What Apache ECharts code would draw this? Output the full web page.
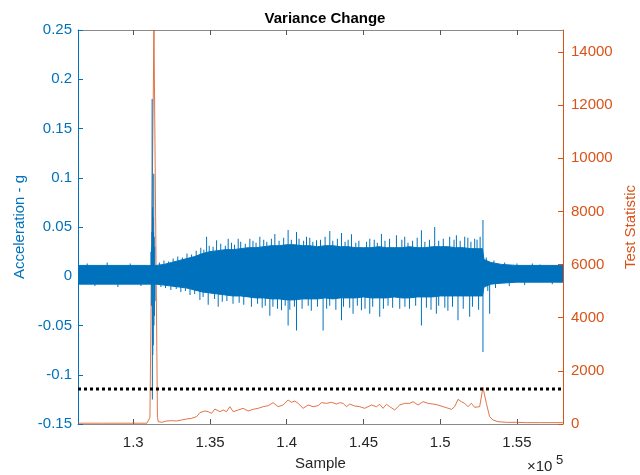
<!DOCTYPE html>
<html><head><meta charset="utf-8">
<script src="https://cdn.jsdelivr.net/npm/echarts@6/dist/echarts.min.js"></script>
<style>html,body{margin:0;padding:0;background:#fff}#c{width:640px;height:475px}</style>
</head><body><div id="c"></div>
<script>
// ---- data ----
const sampleTicks = [130000, 135000, 140000, 145000, 150000, 155000];
const accTicks = [-0.15, -0.1, -0.05, 0, 0.05, 0.1, 0.15, 0.2, 0.25];
const statTicks = [0, 2000, 4000, 6000, 8000, 10000, 12000, 14000];

// acceleration: dense core band (upper / lower edge)
const envX = [126400,131000,131500,132000,132500,133000,133500,134000,134500,135000,135500,136000,136500,137000,137500,138000,138500,139000,139500,140000,140500,141000,141500,142000,142500,143000,143500,144000,144500,145000,145500,146000,146500,147000,147500,148000,148500,149000,149500,150000,150500,151000,151500,152000,152500,152750,152850,153300,154000,155000,158000];
const envUpper = [0.011,0.011,0.011,0.012,0.014,0.016,0.018,0.020,0.023,0.025,0.026,0.027,0.027,0.028,0.029,0.029,0.030,0.031,0.031,0.032,0.032,0.031,0.031,0.030,0.031,0.031,0.030,0.030,0.029,0.029,0.029,0.030,0.029,0.029,0.029,0.030,0.029,0.029,0.030,0.030,0.030,0.029,0.029,0.028,0.028,0.028,0.017,0.014,0.012,0.011,0.011];
const envLower = [-0.008,-0.008,-0.008,-0.009,-0.010,-0.011,-0.012,-0.014,-0.016,-0.017,-0.018,-0.019,-0.020,-0.020,-0.021,-0.022,-0.022,-0.023,-0.023,-0.024,-0.024,-0.023,-0.023,-0.023,-0.022,-0.023,-0.022,-0.022,-0.022,-0.021,-0.022,-0.022,-0.022,-0.021,-0.022,-0.022,-0.021,-0.021,-0.021,-0.020,-0.020,-0.020,-0.020,-0.020,-0.020,-0.020,-0.011,-0.008,-0.007,-0.006,-0.006];

// acceleration: thin excursions beyond the core band (hair + big spikes)
const spikeX = [
  131150,131180,131200,131215,131230,131245,131260,131275,131290,131305,131320,131335,131350,131365,131380,131400,131420,
  127000,127500,128300,129000,129800,130500,156500,157300,
  131700,132000,132300,132600,132900,133200,133500,133800,134100,134400,134600,134778,134950,135200,135429,135700,136000,136185,136400,136600,136836,137000,137300,137597,137800,138000,138248,138500,138700,139000,139225,139500,139800,140090,140300,140637,140800,141100,141288,141500,141700,141939,142200,142500,142805,143000,143300,143567,143800,144000,144218,144500,144700,145200,145409,145700,145900,146170,146400,146700,147147,147500,147687,147900,148200,148500,148775,149000,149300,149640,149900,150200,150617,150900,151054,151300,151594,151800,152000,152245,152400,152600,152785,153000,153500,154200,155000,156000,
  131800,132100,132450,132800,133100,133400,133700,134000,134342,134550,134883,135300,135534,135800,136100,136500,136900,137200,137700,138100,138400,138600,138899,139100,139400,139661,139900,140090,140200,140500,140637,141000,141400,141600,142000,142369,142600,142800,143200,143567,143700,144100,144322,144600,144868,145100,145409,145600,146059,146300,146600,146900,147362,147700,148000,148400,148775,149100,149400,149749,149900,150300,150500,150800,151158,151500,151919,152100,152500,152785,153100,153221,153600,154500,155500];
const spikeY = [
  0.025,-0.03,0.03,0.045,0.18,-0.125,0.07,-0.08,0.06,-0.07,0.045,0.104,-0.05,0.04,-0.04,0.03,-0.025,
  0.013,-0.010,0.014,-0.011,0.013,-0.010,0.012,-0.008,
  0.014,0.016,0.015,0.018,0.020,0.019,0.023,0.022,0.026,0.029,0.027,0.040,0.031,0.030,0.0365,0.033,0.031,0.038,0.034,0.032,0.038,0.035,0.033,0.038,0.036,0.034,0.040,0.037,0.035,0.038,0.043,0.036,0.039,0.047,0.037,0.045,0.038,0.036,0.040,0.039,0.035,0.0365,0.037,0.040,0.046,0.036,0.038,0.044,0.035,0.037,0.0426,0.034,0.036,0.035,0.038,0.037,0.034,0.0428,0.036,0.038,0.0416,0.037,0.040,0.034,0.036,0.039,0.0467,0.035,0.037,0.050,0.036,0.038,0.040,0.037,0.0416,0.036,0.040,0.039,0.035,0.038,0.037,0.040,0.057,0.019,0.016,0.014,0.013,0.013,
  -0.011,-0.012,-0.014,-0.013,-0.016,-0.015,-0.019,-0.018,-0.024,-0.021,-0.029,-0.023,-0.031,-0.026,-0.025,-0.028,-0.027,-0.029,-0.031,-0.028,-0.032,-0.030,-0.040,-0.031,-0.033,-0.0345,-0.030,-0.050,-0.034,-0.031,-0.055,-0.033,-0.030,-0.035,-0.031,-0.055,-0.033,-0.030,-0.034,-0.0447,-0.031,-0.032,-0.038,-0.030,-0.0345,-0.033,-0.038,-0.031,-0.041,-0.033,-0.030,-0.032,-0.033,-0.031,-0.033,-0.030,-0.050,-0.032,-0.034,-0.038,-0.030,-0.032,-0.035,-0.031,-0.0447,-0.033,-0.041,-0.031,-0.034,-0.077,-0.015,-0.038,-0.012,-0.010,-0.009];

// test statistic
const statX = [126400,128000,130000,130892,131087,131348,131576,131628,131849,132174,132500,132825,133151,133476,133802,134127,134342,134668,134883,135104,135319,135644,135859,136080,136295,136510,136836,137161,137487,137812,138138,138463,138789,139114,139440,139765,140090,140311,140526,140741,141067,141392,141718,142043,142264,142590,142915,143241,143456,143671,143893,144107,144433,144758,145084,145193,145519,145844,146059,146274,146495,146711,147036,147362,147687,148013,148228,148554,148879,149205,149530,149856,150181,150402,150728,150943,151158,151379,151594,151809,152030,152245,152570,152785,153006,153221,153436,153762,154309,154960,155611,156476,158000];
const statY = [30,30,30,30,250,14830,250,88,63,113,125,113,151,188,213,276,427,489,464,401,565,464,527,464,652,464,527,590,489,552,590,652,690,803,652,715,903,816,866,778,590,715,652,690,803,778,816,752,803,778,652,752,677,652,590,527,715,652,740,590,740,652,527,715,778,778,841,715,841,778,752,715,652,615,552,652,929,841,778,652,778,627,652,1380,778,276,151,88,63,63,50,50,50];

const threshold = 1320;
const xMin = 126400, xMax = 158000;
const statMax = 14830;

// ---- chart ----
const blue = '#0072BD', orange = '#D95319', dark = '#262626';
const font = 'Liberation Sans, Arial, sans-serif';
const chart = echarts.init(document.getElementById('c'), null, {renderer: 'canvas'});

const zip = (a, b) => a.map((v, i) => [v, b[i]]);

chart.setOption({
  animation: false,
  title: {text: 'Variance Change', left: 320, top: 6, textAlign: 'center',
    textStyle: {fontFamily: font, fontSize: 15, fontWeight: 'bold', color: '#000'}},
  grid: {left: 78, right: 77, top: 30, bottom: 51, containLabel: false, outerBoundsMode: 'none'},
  xAxis: [{
    type: 'value', min: xMin, max: xMax, position: 'bottom',
    name: 'Sample', nameLocation: 'middle', nameGap: 32,
    nameTextStyle: {fontFamily: font, fontSize: 15, color: dark},
    axisLine: {onZero: false, lineStyle: {color: '#8a8a8a', width: 1}},
    axisTick: {inside: true, length: 5, customValues: sampleTicks, lineStyle: {color: '#555'}},
    axisLabel: {customValues: sampleTicks, margin: 11, fontFamily: font, fontSize: 15, color: dark,
      formatter: v => String(+(v / 1e5).toFixed(2))},
    splitLine: {show: false}
  }, {
    type: 'value', min: xMin, max: xMax, position: 'top',
    axisLine: {onZero: false, lineStyle: {color: '#8a8a8a', width: 1}},
    axisTick: {inside: true, length: 5, customValues: sampleTicks, lineStyle: {color: '#555'}},
    axisLabel: {show: false}, splitLine: {show: false}
  }],
  yAxis: [{
    type: 'value', min: -0.15, max: 0.25, position: 'left',
    name: 'Acceleration - g', nameLocation: 'middle', nameGap: 41,
    nameTextStyle: {fontFamily: font, fontSize: 15, color: blue},
    axisLine: {show: true, onZero: false, lineStyle: {color: blue}},
    axisTick: {show: true, inside: true, length: 5, customValues: accTicks, lineStyle: {color: blue}},
    axisLabel: {customValues: accTicks, margin: 6, fontFamily: font, fontSize: 15, color: blue,
      formatter: v => String(+v.toFixed(2))},
    splitLine: {show: false}
  }, {
    type: 'value', min: 0, max: statMax, position: 'right',
    name: 'Test Statistic', nameLocation: 'middle', nameGap: 58, nameRotate: 90,
    nameTextStyle: {fontFamily: font, fontSize: 15, color: orange},
    axisLine: {show: true, onZero: false, lineStyle: {color: orange}},
    axisTick: {show: true, inside: true, length: 5, customValues: statTicks, lineStyle: {color: orange}},
    axisLabel: {customValues: statTicks, margin: 8, fontFamily: font, fontSize: 15, color: orange,
      formatter: v => String(v)},
    splitLine: {show: false}
  }],
  series: [
    {type: 'line', name: 'stat', xAxisIndex: 0, yAxisIndex: 1, data: zip(statX, statY),
      showSymbol: false, lineStyle: {color: orange, width: 1, opacity: 0.8}, z: 2},
    {type: 'custom', name: 'band', xAxisIndex: 0, yAxisIndex: 0, clip: true,
      data: [[envX[0], envUpper[0]]],
      renderItem: (params, api) => {
        const pts = [];
        for (let i = 0; i < envX.length; i++) pts.push(api.coord([envX[i], envUpper[i]]));
        for (let i = envX.length - 1; i >= 0; i--) pts.push(api.coord([envX[i], envLower[i]]));
        return {type: 'polygon', shape: {points: pts},
          style: {fill: blue, stroke: blue, lineWidth: 1}};
      }, z: 3},
    {type: 'bar', name: 'spikes', yAxisIndex: 0, data: zip(spikeX, spikeY),
      barWidth: 1, itemStyle: {color: blue}, z: 4},
    {type: 'line', name: 'threshold', yAxisIndex: 1, data: [[xMin, threshold], [xMax, threshold]],
      showSymbol: false, lineStyle: {color: '#000', width: 3, type: [3, 3]}, z: 5}
  ],
  graphic: [
    {type: 'text', left: 527, top: 459, style: {text: '×10', font: '15px ' + font, fill: dark}},
    {type: 'text', left: 556, top: 454, style: {text: '5', font: '13px ' + font, fill: dark}}
  ]
});
</script></body></html>
